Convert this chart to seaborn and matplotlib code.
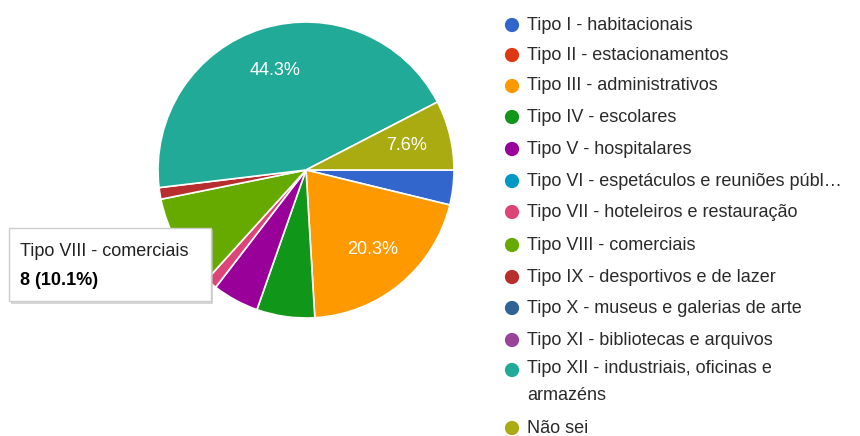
import matplotlib
matplotlib.use("Agg")
import matplotlib.pyplot as plt
import seaborn as sns
import numpy as np
from matplotlib.patches import Rectangle

sns.set_theme(style="white")
plt.rcParams['font.family'] = ['Liberation Sans', 'DejaVu Sans']

categories = [
    "Tipo I - habitacionais",
    "Tipo II - estacionamentos",
    "Tipo III - administrativos",
    "Tipo IV - escolares",
    "Tipo V - hospitalares",
    "Tipo VI - espetáculos e reuniões públ…",
    "Tipo VII - hoteleiros e restauração",
    "Tipo VIII - comerciais",
    "Tipo IX - desportivos e de lazer",
    "Tipo X - museus e galerias de arte",
    "Tipo XI - bibliotecas e arquivos",
    "Tipo XII - industriais, oficinas e\narmazéns",
    "Não sei",
]
counts = [3, 0, 16, 5, 4, 0, 1, 8, 1, 0, 0, 35, 6]
show_pct = [False, False, True, False, False, False, False, False, False, False, False, True, True]
colors = ["#3366CC", "#DC3912", "#FF9900", "#109618", "#990099", "#0099C6",
          "#DD4477", "#66AA00", "#B82E2E", "#316395", "#994499", "#22AA99", "#AAAA11"]
tooltip_title = "Tipo VIII - comerciais"
tooltip_value = "8 (10.1%)"

W, H = 860, 436
fig = plt.figure(figsize=(W / 100, H / 100), dpi=100)
fig.patch.set_facecolor("white")

# pie axes: center (306,170) px, radius 148 px
cx, cy, R = 306, 170, 148
ax = fig.add_axes([(cx - 150) / W, (H - cy - 150) / H, 300 / W, 300 / H])

idx = [i for i, c in enumerate(counts) if c > 0]
vals = [counts[i] for i in idx]
cols = [colors[i] for i in idx]
shows = [show_pct[i] for i in idx]
total = sum(vals)
wedges, _ = ax.pie(vals, colors=cols, startangle=0, counterclock=False, radius=R,
                   wedgeprops=dict(edgecolor="white", linewidth=1.2))
ax.set_xlim(-150, 150)
ax.set_ylim(-150, 150)
ax.set_aspect("equal")
ax.axis("off")
for w, v, s in zip(wedges, vals, shows):
    if not s:
        continue
    ang = np.deg2rad((w.theta1 + w.theta2) / 2)
    r = 0.7 * R
    ax.text(r * np.cos(ang), r * np.sin(ang), f"{100 * v / total:.1f}%",
            ha="center", va="center", color="white", fontsize=13)

# overlay axes in pixel coords
ov = fig.add_axes([0, 0, 1, 1], zorder=5)
ov.set_xlim(0, W)
ov.set_ylim(H, 0)
ov.axis("off")
ov.patch.set_alpha(0)

# legend
ys = [25, 55, 86, 117, 149, 181, 212, 245, 277, 308, 340, 370, 428]
for y, lab, col in zip(ys, categories, colors):
    ov.scatter([512], [y], s=105, color=col, edgecolor="none")
    if "\n" in lab:
        ov.text(527, y - 10, lab, ha="left", va="top", fontsize=13,
                color="#2a2a2a", linespacing=1.75)
    else:
        ov.text(527, y, lab, ha="left", va="center", fontsize=13, color="#2a2a2a")

# tooltip
ov.add_patch(Rectangle((11, 230), 202, 74, facecolor="#BBBBBB", edgecolor="none", alpha=0.6))
ov.add_patch(Rectangle((9, 228), 202, 73, facecolor="white", edgecolor="#CCCCCC", linewidth=1))
ov.text(20, 251, tooltip_title, ha="left", va="center", fontsize=13, color="#222222")
ov.text(20, 280, tooltip_value, ha="left", va="center", fontsize=13, color="#000000",
        fontweight="bold")

fig.savefig("out.png", dpi=100, facecolor="white")
